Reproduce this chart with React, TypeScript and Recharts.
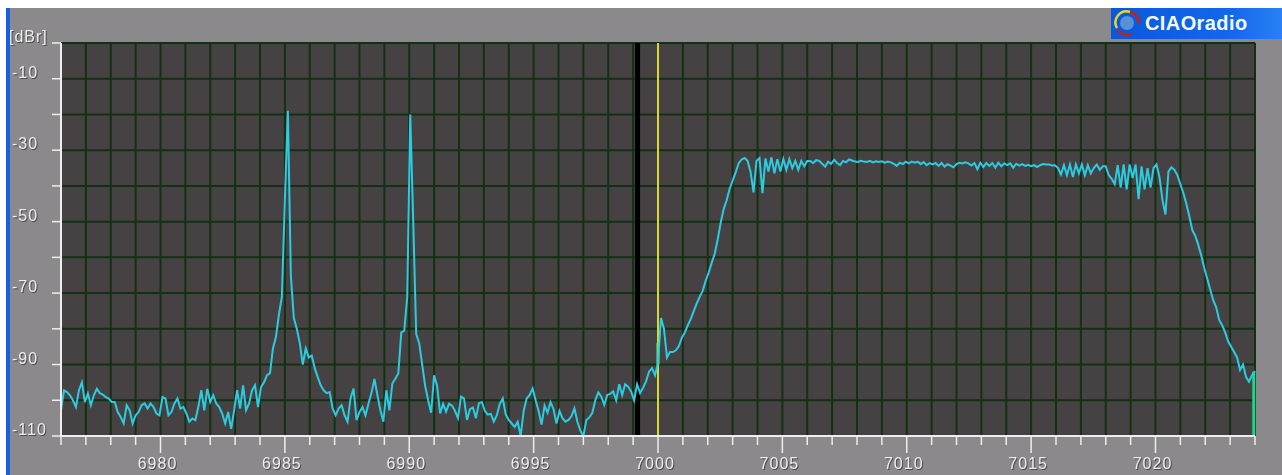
import React from "react";
import { LineChart, Line, XAxis, YAxis, CartesianGrid, ReferenceLine } from "recharts";

const START_FREQ = 6976;
const BIN_WIDTH = 0.12;

const noiseLeft = [
  -102.8, -97.2, -97.7, -98.6, -100, -101.9, -97.2, -95, -100.5, -98.1,
  -101.4, -98.6, -96.8, -98, -98.4, -99.1, -99.5, -100.5, -100.5, -103.3,
  -104.7, -106.5, -101.4, -102.8, -106.5, -104.2, -103.3, -101.4, -100.9, -102.3,
  -100.9, -101.9, -103.7, -104.2, -99.1, -99.5, -104.2, -103.3, -100.9, -99.5,
  -102.3, -101.9, -103.7, -106, -105.1, -105.6, -101.9, -97.2, -102.8, -96.8,
  -100.5, -98.6, -100.9, -101.9, -103.7, -106.5, -103.3, -108, -102.8, -97.2,
  -102.3, -95.8, -102.8, -100.9, -97.2, -95.8, -101.9, -96.3, -95, -93,
];

const carriers = [
  -92.5, -85.5, -82.3, -76, -71, -44, -19, -65, -77, -80,
  -84, -90, -85.5, -88, -87.5, -91, -93.5, -95.8, -97.2, -98,
  -97.7, -102.3, -104.2, -102.3, -101.4, -104.2, -106, -99.5, -96.7, -105.6,
  -103.3, -101.9, -104.2, -101, -98, -94, -98.6, -102.8, -106, -97.2,
  -102.8, -95.3, -94, -92.5, -81, -80.5, -71, -20, -50, -81.5,
  -84, -90, -96, -100, -103.5, -93, -96, -103.7, -101, -103.2,
  -101, -101.5, -103, -105, -99, -99.5, -105.5, -102.5, -102, -105,
];

const noiseRight = [
  -100.8, -100.5, -103, -104, -103.8, -106, -104.2, -101, -99.5, -104,
  -105.5, -106.5, -107.5, -106, -110, -103, -99.5, -98.5, -96.7, -100,
  -103, -106.8, -101.5, -103.5, -100.5, -102.5, -106.5, -103, -105, -106,
  -105.5, -104.5, -102.3, -106, -108.5, -110, -105.5, -104.8, -103.5, -100,
  -97.8, -99, -101.3, -98.5, -98.2, -97.5, -100, -95.5, -98.5, -95.5,
  -96.2, -97.5, -100, -95.5, -98, -96.5, -94.7, -92, -91, -93,
];

const passbandRise = [
  -89.5, -77, -80, -88, -86.5, -86.5, -86, -84.8, -82.5, -81,
  -79, -77.2, -75, -72.9, -71, -69.3, -66.5, -64.2, -61.5, -59,
  -55, -50.3, -46.5, -44, -40.8, -38.5, -36.3, -33.7, -32.6, -32.2,
  -33, -36, -41.8, -33, -32.2, -42, -32.3, -36, -32, -36.5,
  -32.5, -36, -32.5, -35.5, -32.5, -35, -33, -35.5, -33, -34.5,
];

const passbandFlat = [
  -33, -33, -33.6, -32.8, -33, -33.8, -34.6, -33.2, -33.8, -32.7,
  -33.6, -34.2, -33, -33.4, -32.6, -32.9, -33.2, -33.3, -33, -33.2,
  -33.3, -33, -33.4, -33.1, -33.3, -33.1, -33.5, -33.2, -33.4, -33.8,
  -34.4, -33.5, -33.9, -33.2, -33.7, -33.2, -33.5, -33.2, -33.9, -33.3,
  -34.2, -33.6, -34, -33.6, -34.4, -33.6, -34.6, -33.9, -34.3, -34.8,
  -33.9, -33.5, -33.7, -33.4, -33.7, -34.3, -33.6, -35.3, -33.5, -34.7,
  -33.6, -34.4, -33.6, -34.9, -33.5, -34.5, -33.7, -34.2, -33.7, -34.9,
  -33.8, -34.3, -33.9, -34.4, -34.1, -34.5, -34.2, -34.7,
];

const passbandFall = [
  -34.2, -33.9, -34, -34, -34.3, -34.2, -35, -36.8, -34.2, -37,
  -34, -37.5, -34, -36.5, -34, -37, -34.2, -36.5, -35, -34,
  -35.5, -34.5, -34.5, -37, -38, -39.5, -34.2, -40.5, -34, -41,
  -34, -37.8, -34, -43.7, -34.5, -41, -35, -40.5, -35, -34,
  -37.5, -44, -48, -36, -34.8, -35.5, -37, -39.5, -42, -45,
  -48.5, -52.4, -54, -56.5, -59.5, -63, -66, -69, -72, -74,
  -77.5, -79, -81, -83.5, -85, -86.5, -88, -91.5, -90, -93.5,
  -94.8, -93, -91.8,
];

const levels = [...noiseLeft, ...carriers, ...noiseRight, ...passbandRise, ...passbandFlat, ...passbandFall];
const spectrum = levels.map((db, i) => ({ freq: START_FREQ + i * BIN_WIDTH, db }));

const freqTicks = [
  6976, 6977, 6978, 6979, 6980, 6981, 6982, 6983, 6984, 6985, 6986, 6987, 6988, 6989, 6990, 6991, 6992,
  6993, 6994, 6995, 6996, 6997, 6998, 6999, 7000, 7001, 7002, 7003, 7004, 7005, 7006, 7007, 7008, 7009,
  7010, 7011, 7012, 7013, 7014, 7015, 7016, 7017, 7018, 7019, 7020, 7021, 7022, 7023, 7024,
];
const freqLabels = [6980, 6985, 6990, 6995, 7000, 7005, 7010, 7015, 7020];
const dbTicks = [0, -10, -20, -30, -40, -50, -60, -70, -80, -90, -100, -110];
const dbLabels: Record<number, string> = { 0: "[dBr]", [-10]: "-10", [-30]: "-30", [-50]: "-50", [-70]: "-70", [-90]: "-90", [-110]: "-110" };

const labelStyle = {
  fontFamily: "'Liberation Sans', Arial, sans-serif",
  fontSize: 16,
  letterSpacing: 1,
  fill: "#eeeeee",
  style: { filter: "drop-shadow(1px 1px 0 #4a4a4a)" },
};

function FreqTick({ x, y, payload }: any) {
  const major = freqLabels.includes(payload.value);
  return (
    <g>
      <line x1={x} x2={x} y1={y} y2={y + (major ? 17 : 9)} stroke="#eeeeee" strokeWidth={1.5} />
      {major && (
        <text x={x - 3} y={y + 33} textAnchor="middle" {...labelStyle}>
          {payload.value}
        </text>
      )}
    </g>
  );
}

function DbTick({ x, y, payload }: any) {
  const label = dbLabels[payload.value];
  return (
    <g>
      <line x1={x - 9} x2={x} y1={y} y2={y} stroke="#eeeeee" strokeWidth={1.5} />
      {label && (
        <text x={payload.value === 0 ? 9 : 12} y={y - 1} textAnchor="start" {...labelStyle}>
          {label}
        </text>
      )}
    </g>
  );
}

function Logo() {
  return (
    <div style={{
      position: "absolute",
      left: 1111,
      top: 8,
      width: 171,
      height: 31,
      background: "linear-gradient(90deg, #0a58dc, #1268ea 70%, #2a80f4)",
    }}>
      <svg width={32} height={31} style={{ position: "absolute", left: 1, top: 0 }}>
        <circle cx={15} cy={15} r={7} fill="#5a90d8" />
        <path d="M5 20 A11 11 0 0 1 18 4" fill="none" stroke="#e8d820" strokeWidth={2.5} />
        <path d="M18 4 A11 11 0 0 1 27 16" fill="none" stroke="#b02828" strokeWidth={3} />
        <path d="M6 22 A11 11 0 0 0 20 26" fill="none" stroke="#b02828" strokeWidth={3} />
      </svg>
      <span style={{
        position: "absolute",
        left: 34,
        top: 4,
        color: "#f4f8ff",
        fontFamily: "'Liberation Sans', Arial, sans-serif",
        fontWeight: 700,
        fontSize: 20,
        letterSpacing: 0.4,
      }}>CIAOradio</span>
    </div>
  );
}

export default function App() {
  return (
    <div style={{ position: "absolute", left: 0, top: 0, width: 1282, height: 475, background: "#ffffff", overflow: "hidden" }}>
      <div style={{ position: "absolute", left: 6, top: 8, width: 4, height: 467, background: "#1560e0" }} />
      <div style={{ position: "absolute", left: 10, top: 8, width: 1272, height: 467, background: "#8b898b" }} />
      <Logo />
      <div style={{ position: "absolute", left: 0, top: 0, filter: "blur(0.4px)" }}>
        <LineChart width={1282} height={475} data={spectrum} margin={{ top: 43, right: 27, bottom: 0, left: 0 }}>
          <CartesianGrid fill="#464244" stroke="#123012" strokeWidth={2} />
          <XAxis
            dataKey="freq"
            type="number"
            domain={[6976, 7024]}
            ticks={freqTicks}
            interval={0}
            height={39}
            tickLine={false}
            tickSize={0}
            tickMargin={0}
            axisLine={{ stroke: "#eeeeee", strokeWidth: 2 }}
            tick={<FreqTick />}
          />
          <YAxis
            type="number"
            domain={[-110, 0]}
            ticks={dbTicks}
            interval={0}
            width={61}
            tickLine={false}
            tickSize={0}
            tickMargin={0}
            axisLine={{ stroke: "#eeeeee", strokeWidth: 2 }}
            tick={<DbTick />}
          />
          <ReferenceLine x={6999.18} stroke="#000000" strokeWidth={5} />
          <ReferenceLine x={7000} stroke="#d8d830" strokeWidth={2} />
          <ReferenceLine segment={[{ x: 7000, y: -84 }, { x: 7000, y: -90 }]} stroke="#78e070" strokeWidth={3} />
          <ReferenceLine segment={[{ x: 7023.95, y: -92 }, { x: 7023.95, y: -110 }]} stroke="#14dc8c" strokeWidth={3} />
          <Line
            dataKey="db"
            type="linear"
            stroke="#2ccce0"
            strokeWidth={2}
            dot={false}
            activeDot={false}
            isAnimationActive={false}
          />
        </LineChart>
      </div>
    </div>
  );
}
